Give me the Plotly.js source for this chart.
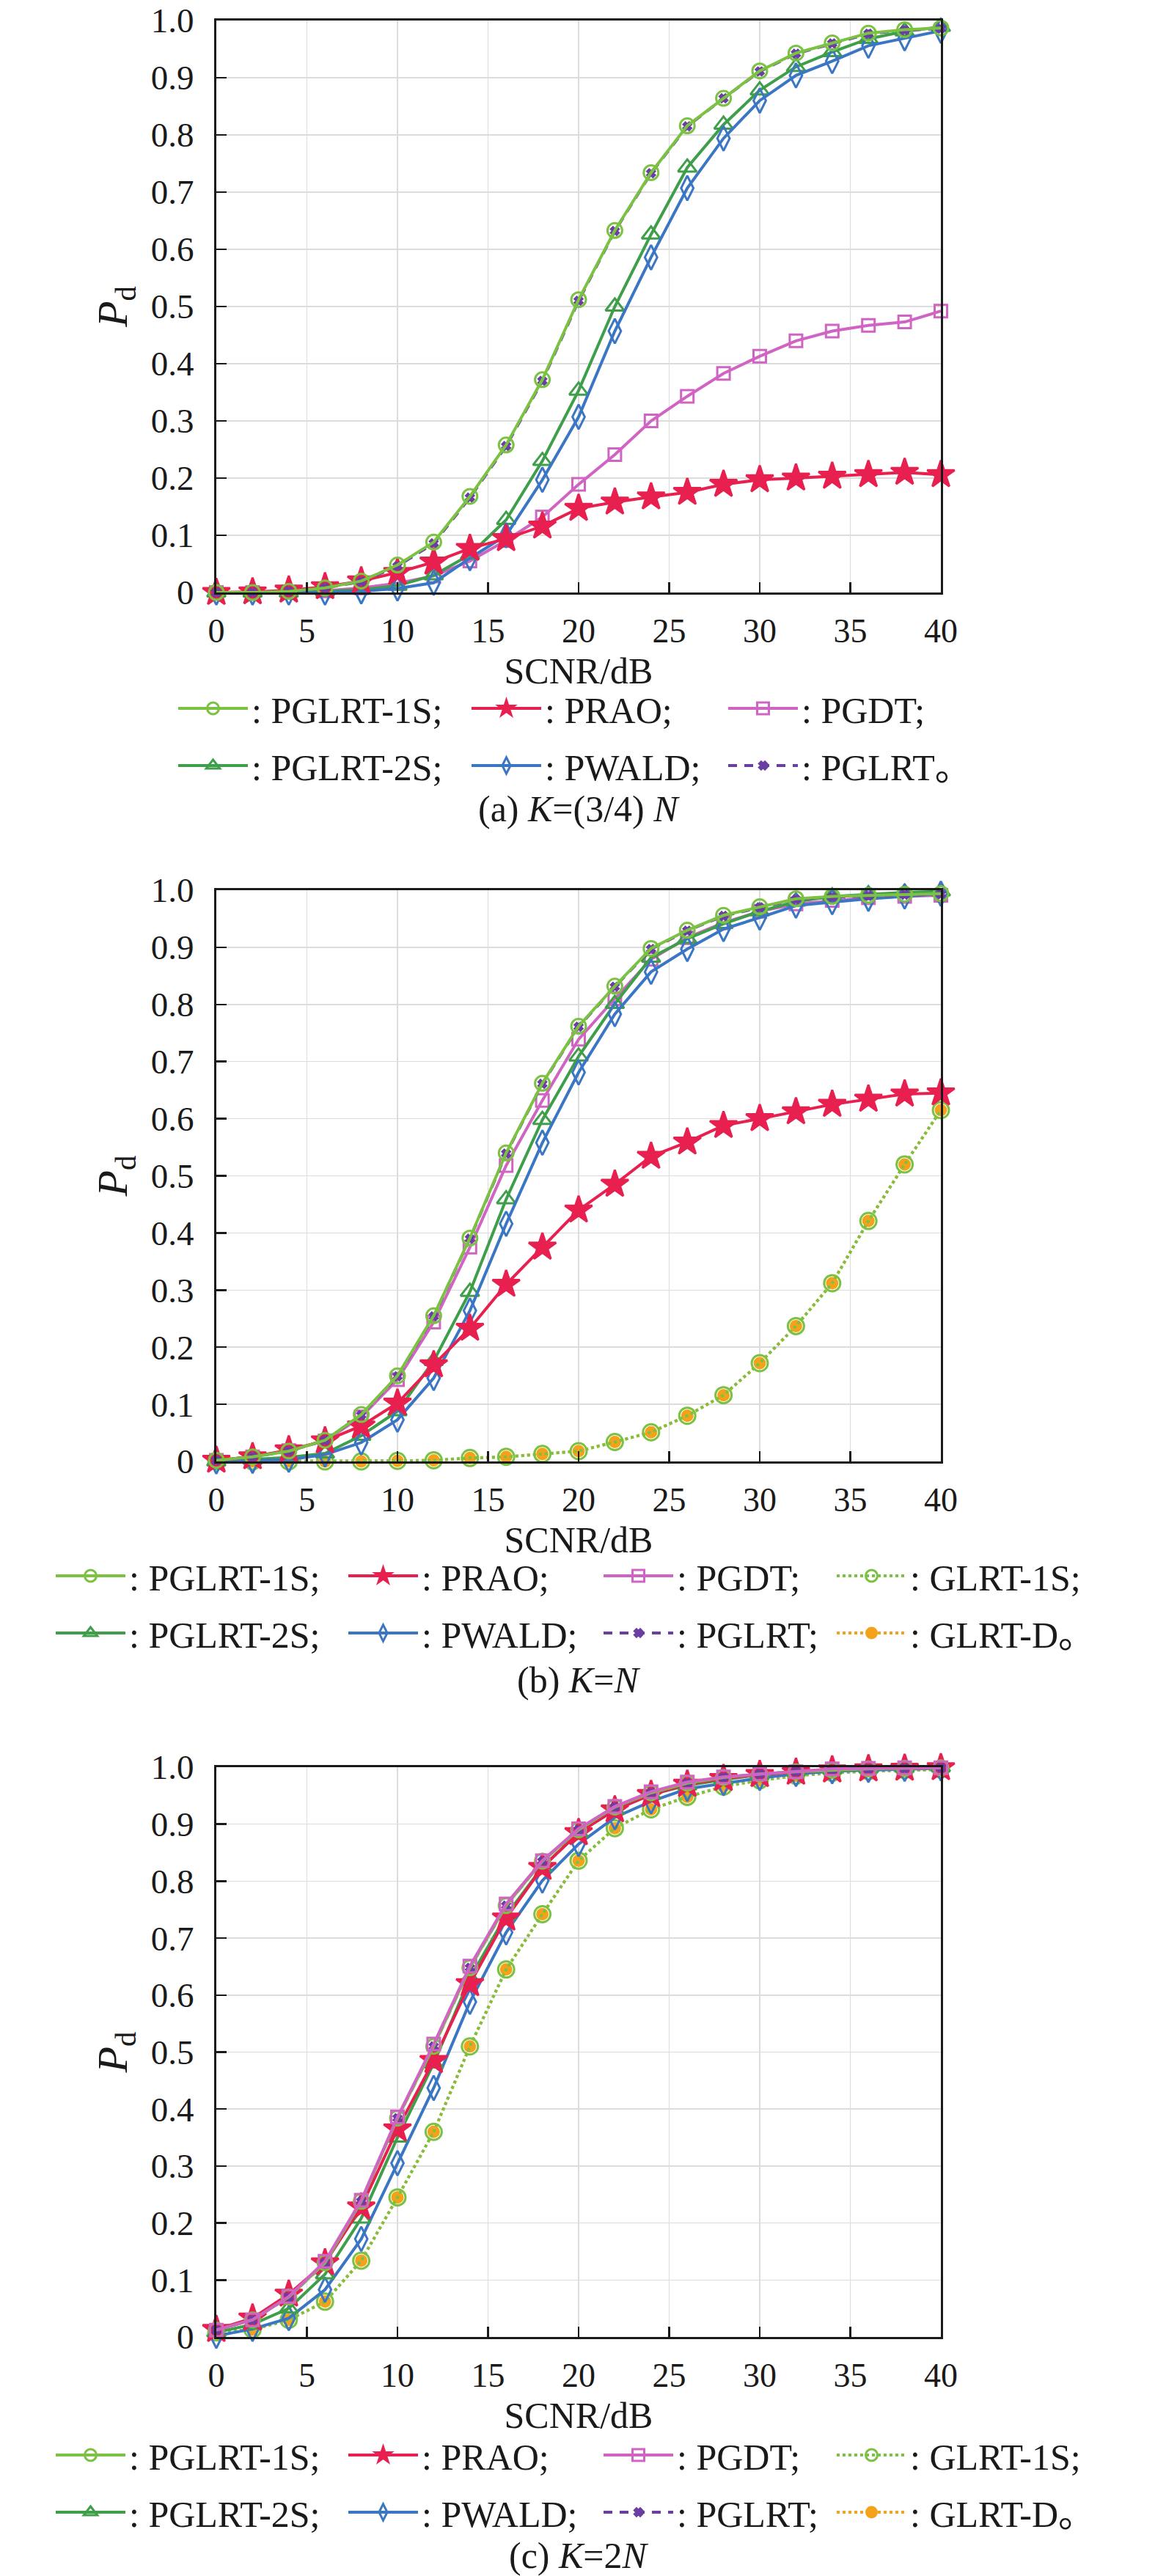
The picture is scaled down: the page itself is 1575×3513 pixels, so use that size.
<!DOCTYPE html>
<html>
<head>
<meta charset="utf-8">
<script src="https://cdn.plot.ly/plotly-3.0.1.min.js"></script>
<style>body { margin: 0; background: #fff; }</style>
</head>
<body>
<div id="chart" style="width:1575px;height:3513px"></div>
<script>
// x values shared by all three panels (SCNR in dB)
var snr = [0, 2, 4, 6, 8, 10, 12, 14, 16, 18, 20, 22, 24, 26, 28, 30, 32, 34, 36, 38, 40];

// (a) K=(3/4)N
var a_pglrt1s = [0, 0, 0.002, 0.008, 0.020, 0.048, 0.088, 0.168, 0.258, 0.372, 0.512, 0.633, 0.734, 0.816, 0.864, 0.912, 0.943, 0.961, 0.978, 0.984, 0.987];
var a_prao    = [0, 0.001, 0.004, 0.010, 0.020, 0.035, 0.053, 0.077, 0.094, 0.116, 0.147, 0.158, 0.167, 0.175, 0.189, 0.197, 0.200, 0.203, 0.206, 0.210, 0.206];
var a_pgdt    = [0, 0, 0.001, 0.003, 0.008, 0.016, 0.029, 0.055, 0.091, 0.132, 0.189, 0.241, 0.300, 0.343, 0.383, 0.413, 0.440, 0.457, 0.467, 0.473, 0.492];
var a_pglrt2s = [0, 0, 0, 0.002, 0.005, 0.012, 0.030, 0.066, 0.127, 0.230, 0.353, 0.500, 0.626, 0.743, 0.818, 0.878, 0.919, 0.945, 0.968, 0.981, 0.989];
var a_pwald   = [0, 0, 0, 0, 0.002, 0.007, 0.017, 0.060, 0.100, 0.197, 0.307, 0.457, 0.586, 0.707, 0.794, 0.860, 0.904, 0.929, 0.956, 0.969, 0.982];
var a_pglrt   = [0, 0, 0.002, 0.008, 0.019, 0.046, 0.086, 0.166, 0.256, 0.370, 0.510, 0.632, 0.733, 0.815, 0.864, 0.911, 0.942, 0.960, 0.977, 0.983, 0.986];

// (b) K=N
var b_pglrt1s = [0.002, 0.008, 0.018, 0.037, 0.082, 0.150, 0.255, 0.391, 0.540, 0.662, 0.762, 0.832, 0.898, 0.930, 0.956, 0.971, 0.985, 0.989, 0.991, 0.993, 0.994];
var b_prao    = [0.002, 0.008, 0.020, 0.036, 0.062, 0.102, 0.169, 0.233, 0.310, 0.375, 0.440, 0.485, 0.534, 0.559, 0.588, 0.600, 0.612, 0.625, 0.634, 0.643, 0.645];
var b_pgdt    = [0.002, 0.008, 0.019, 0.036, 0.078, 0.143, 0.244, 0.375, 0.518, 0.632, 0.739, 0.810, 0.879, 0.917, 0.943, 0.963, 0.976, 0.982, 0.987, 0.989, 0.991];
var b_glrt1s  = [0, 0, 0, 0, 0, 0.001, 0.002, 0.006, 0.008, 0.013, 0.018, 0.034, 0.051, 0.080, 0.116, 0.172, 0.237, 0.312, 0.421, 0.520, 0.615];
var b_pglrt2s = [0, 0.003, 0.007, 0.014, 0.045, 0.088, 0.176, 0.297, 0.459, 0.598, 0.709, 0.801, 0.882, 0.915, 0.941, 0.963, 0.980, 0.989, 0.993, 0.996, 0.998];
var b_pwald   = [0, 0.001, 0.003, 0.012, 0.033, 0.073, 0.146, 0.264, 0.416, 0.558, 0.681, 0.783, 0.857, 0.897, 0.932, 0.952, 0.973, 0.979, 0.985, 0.989, 0.994];
var b_pglrt   = [0.002, 0.008, 0.018, 0.037, 0.081, 0.149, 0.254, 0.390, 0.539, 0.661, 0.761, 0.831, 0.897, 0.929, 0.955, 0.970, 0.984, 0.988, 0.990, 0.992, 0.993];
var b_glrtd   = [0, 0, 0, 0, 0, 0.001, 0.002, 0.006, 0.008, 0.013, 0.018, 0.034, 0.051, 0.080, 0.116, 0.172, 0.237, 0.312, 0.421, 0.520, 0.615];

// (c) K=2N
var c_pglrt1s = [0.012, 0.030, 0.070, 0.130, 0.238, 0.384, 0.510, 0.648, 0.757, 0.835, 0.890, 0.930, 0.955, 0.972, 0.982, 0.988, 0.992, 0.995, 0.997, 0.998, 0.999];
var c_prao    = [0.013, 0.033, 0.075, 0.130, 0.228, 0.365, 0.485, 0.620, 0.735, 0.824, 0.885, 0.925, 0.952, 0.970, 0.980, 0.987, 0.991, 0.995, 0.997, 0.998, 0.999];
var c_pgdt    = [0.012, 0.030, 0.071, 0.133, 0.240, 0.386, 0.514, 0.651, 0.760, 0.836, 0.892, 0.931, 0.957, 0.974, 0.983, 0.988, 0.992, 0.997, 0.998, 0.999, 0.999];
var c_glrt1s  = [0.008, 0.013, 0.030, 0.062, 0.134, 0.245, 0.360, 0.510, 0.645, 0.742, 0.836, 0.893, 0.926, 0.948, 0.966, 0.977, 0.985, 0.990, 0.993, 0.995, 0.996];
var c_pglrt2s = [0.008, 0.022, 0.050, 0.110, 0.208, 0.350, 0.480, 0.630, 0.740, 0.825, 0.885, 0.925, 0.952, 0.968, 0.978, 0.987, 0.993, 0.996, 0.998, 0.999, 1.000];
var c_pwald   = [0.002, 0.014, 0.033, 0.083, 0.172, 0.305, 0.437, 0.588, 0.710, 0.801, 0.865, 0.912, 0.940, 0.962, 0.972, 0.981, 0.988, 0.993, 0.995, 0.997, 0.998];
var c_pglrt   = [0.012, 0.030, 0.070, 0.130, 0.238, 0.384, 0.510, 0.648, 0.757, 0.835, 0.890, 0.930, 0.955, 0.972, 0.982, 0.988, 0.992, 0.995, 0.997, 0.998, 0.999];
var c_glrtd   = [0.008, 0.013, 0.030, 0.062, 0.134, 0.245, 0.360, 0.510, 0.645, 0.742, 0.836, 0.893, 0.926, 0.948, 0.966, 0.977, 0.985, 0.990, 0.993, 0.995, 0.996];

var xTicks = [0, 5, 10, 15, 20, 25, 30, 35, 40];
var yTicks = [0, 0.1, 0.2, 0.3, 0.4, 0.5, 0.6, 0.7, 0.8, 0.9, 1.0];
var yTickText = ['0', '0.1', '0.2', '0.3', '0.4', '0.5', '0.6', '0.7', '0.8', '0.9', '1.0'];

var W = 1575, H = 3513;
var serif = '"Liberation Serif", "DejaVu Serif", "Noto Sans CJK SC", serif';
var ink = '#1a1a1a';

// look of each detector (shared by the three panels)
var styles = {
  pglrt1s: { color: '#7cc242', symbol: 'circle-open', size: 20, dash: 'solid' },
  prao:    { color: '#e8204f', symbol: 'star', size: 28, dash: 'solid' },
  pgdt:    { color: '#d064c3', symbol: 'square-open', size: 17, dash: 'solid' },
  pglrt2s: { color: '#3f9e49', symbol: 'triangle-up-open', size: 22, dash: 'solid' },
  pwald:   { color: '#3b76c5', symbol: 'diamond-tall-open', size: 24, dash: 'solid' },
  pglrt:   { color: '#6a3ea3', symbol: 'x', size: 9, dash: '12px,10px' },
  glrt1s:  { color: '#7cc242', symbol: 'circle-open', size: 22, dash: 'dot' },
  glrtd:   { color: '#f5a21b', symbol: 'circle', size: 14, dash: 'dot' }
};

function trace(key, name, y, panel, legendId, rank) {
  var s = styles[key];
  return {
    x: snr, y: y, name: name, type: 'scatter', mode: 'lines+markers',
    xaxis: panel === 1 ? 'x' : 'x' + panel,
    yaxis: panel === 1 ? 'y' : 'y' + panel,
    legend: legendId, legendrank: rank, legendgroup: key + panel,
    cliponaxis: false,
    line: { color: s.color, width: 4, dash: s.dash },
    marker: { symbol: s.symbol, size: s.size, color: s.color, line: { color: s.color, width: 3 } }
  };
}

// drawing order: bottom curves first, PGLRT-1S circles on top
var data = [
  trace('pgdt', ': PGDT;', a_pgdt, 1, 'legend3', 1),
  trace('pglrt2s', ': PGLRT-2S;', a_pglrt2s, 1, 'legend', 2),
  trace('pwald', ': PWALD;', a_pwald, 1, 'legend2', 2),
  trace('prao', ': PRAO;', a_prao, 1, 'legend2', 1),
  trace('pglrt', ': PGLRT\u3002', a_pglrt, 1, 'legend3', 2),
  trace('pglrt1s', ': PGLRT-1S;', a_pglrt1s, 1, 'legend', 1),

  trace('glrtd', ': GLRT-D\u3002', b_glrtd, 2, 'legend7', 2),
  trace('glrt1s', ': GLRT-1S;', b_glrt1s, 2, 'legend7', 1),
  trace('pgdt', ': PGDT;', b_pgdt, 2, 'legend6', 1),
  trace('pglrt2s', ': PGLRT-2S;', b_pglrt2s, 2, 'legend4', 2),
  trace('pwald', ': PWALD;', b_pwald, 2, 'legend5', 2),
  trace('prao', ': PRAO;', b_prao, 2, 'legend5', 1),
  trace('pglrt', ': PGLRT;', b_pglrt, 2, 'legend6', 2),
  trace('pglrt1s', ': PGLRT-1S;', b_pglrt1s, 2, 'legend4', 1),

  trace('glrtd', ': GLRT-D\u3002', c_glrtd, 3, 'legend11', 2),
  trace('glrt1s', ': GLRT-1S;', c_glrt1s, 3, 'legend11', 1),
  trace('pwald', ': PWALD;', c_pwald, 3, 'legend9', 2),
  trace('pglrt2s', ': PGLRT-2S;', c_pglrt2s, 3, 'legend8', 2),
  trace('prao', ': PRAO;', c_prao, 3, 'legend9', 1),
  trace('pglrt', ': PGLRT;', c_pglrt, 3, 'legend10', 2),
  trace('pglrt1s', ': PGLRT-1S;', c_pglrt1s, 3, 'legend8', 1),
  trace('pgdt', ': PGDT;', c_pgdt, 3, 'legend10', 1)
];

// pixel box of each panel -> paper domain
function xDom() { return [295 / W, 1283 / W]; }
function yDom(topPx, bottomPx) { return [1 - bottomPx / H, 1 - topPx / H]; }

function xAxis(anchor) {
  return {
    anchor: anchor, domain: xDom(), range: [0, 40], tickvals: xTicks,
    showgrid: true, gridcolor: '#dcdcdc', gridwidth: 1.5, zeroline: false,
    showline: true, linecolor: ink, linewidth: 3, mirror: true,
    ticks: 'inside', ticklen: 14, tickwidth: 2.5, tickcolor: ink,
    ticklabelstandoff: 10,
    tickfont: { family: serif, size: 46, color: ink },
    title: { text: 'SCNR/dB', standoff: 12, font: { family: serif, size: 50, color: ink } }
  };
}
function yAxis(anchor, topPx, bottomPx) {
  return {
    anchor: anchor, domain: yDom(topPx, bottomPx), range: [0, 1],
    tickvals: yTicks, ticktext: yTickText,
    showgrid: true, gridcolor: '#dcdcdc', gridwidth: 1.5, zeroline: false,
    showline: true, linecolor: ink, linewidth: 3, mirror: true,
    ticks: 'inside', ticklen: 14, tickwidth: 2.5, tickcolor: ink,
    ticklabelstandoff: 18,
    tickfont: { family: serif, size: 47, color: ink },
    title: { text: '<i>P</i><sub>d</sub>', standoff: 14, font: { family: serif, size: 58, color: ink } }
  };
}

// one small vertical legend per legend column, one group per row
function legendCol(leftPx, topPx) {
  return {
    x: leftPx / W, y: 1 - topPx / H, xanchor: 'left', yanchor: 'top',
    orientation: 'v', itemwidth: 95, tracegroupgap: 10,
    bgcolor: 'rgba(0,0,0,0)', borderwidth: 0,
    font: { family: serif, size: 50, color: ink }
  };
}

function caption(text, centerPx) {
  return {
    xref: 'paper', yref: 'paper', x: 789 / W, y: 1 - centerPx / H,
    xanchor: 'center', yanchor: 'middle', showarrow: false, text: text,
    font: { family: serif, size: 50, color: ink }
  };
}

var layout = {
  width: W, height: H,
  margin: { l: 0, r: 0, t: 0, b: 0 },
  font: { family: serif, color: ink },
  paper_bgcolor: '#fff', plot_bgcolor: '#fff',
  xaxis: xAxis('y'), yaxis: yAxis('x', 28, 808),
  xaxis2: xAxis('y2'), yaxis2: yAxis('x2', 1214, 1993),
  xaxis3: xAxis('y3'), yaxis3: yAxis('x3', 2410, 3187),
  legend: legendCol(238, 927), legend2: legendCol(638, 927), legend3: legendCol(988, 927),
  legend4: legendCol(71, 2110), legend5: legendCol(470, 2110), legend6: legendCol(818, 2110), legend7: legendCol(1136, 2110),
  legend8: legendCol(71, 3309), legend9: legendCol(470, 3309), legend10: legendCol(818, 3309), legend11: legendCol(1136, 3309),
  annotations: [
    caption('(a) <i>K</i>=(3/4) <i>N</i>', 1103),
    caption('(b) <i>K</i>=<i>N</i>', 2291),
    caption('(c) <i>K</i>=2<i>N</i>', 3485)
  ]
};

Plotly.newPlot('chart', data, layout, { staticPlot: true });
</script>
</body>
</html>
